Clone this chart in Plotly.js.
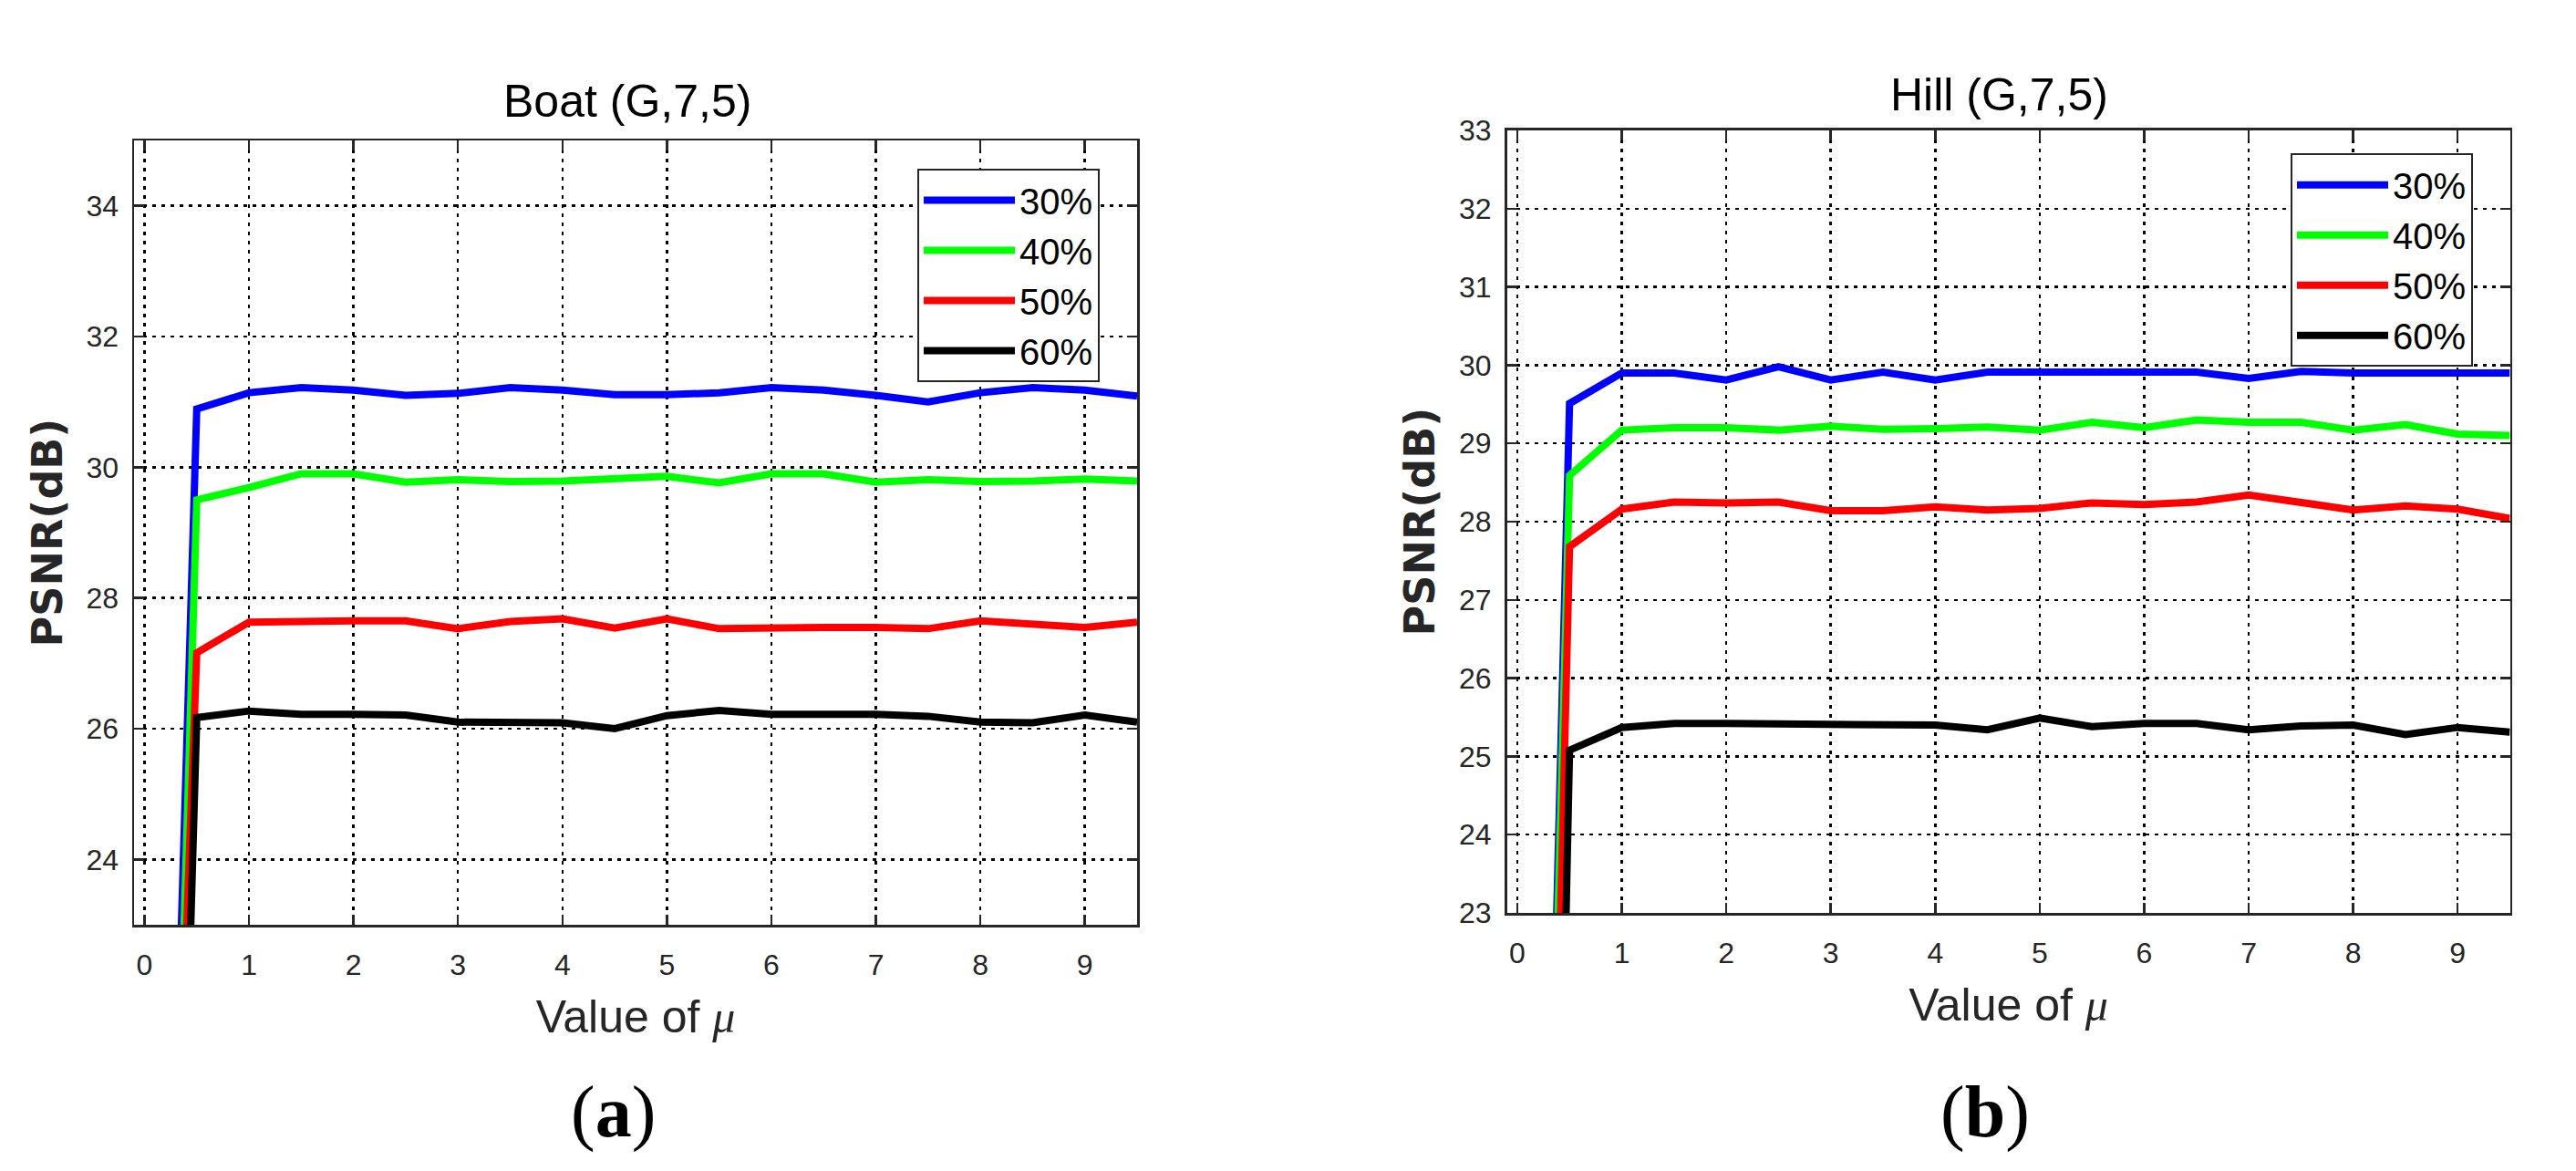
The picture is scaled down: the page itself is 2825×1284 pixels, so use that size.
<!DOCTYPE html>
<html>
<head>
<meta charset="utf-8">
<script src="https://cdn.plot.ly/plotly-3.0.1.min.js"></script>
<style>
  html, body { margin: 0; padding: 0; background: #fff; }
  #chart { width: 2825px; height: 1284px; }
</style>
</head>
<body>
<div id="chart"></div>
<script>
"use strict"
// mu values (x axis), same for both panels
let mu = [0, 0.5, 1, 1.5, 2, 2.5, 3, 3.5, 4, 4.5, 5, 5.5, 6, 6.5, 7, 7.5, 8, 8.5, 9, 9.5];
let rates = ["30%", "40%", "50%", "60%"];
let colors = ["#0000ff", "#00ff00", "#ff0000", "#000000"];

// (a) Boat
let boat_30 = [4.0, 30.89, 31.14, 31.22, 31.18, 31.10, 31.13, 31.22, 31.18, 31.11, 31.11, 31.14, 31.22, 31.18, 31.10, 31.00, 31.14, 31.22, 31.18, 31.09];
let boat_40 = [2.6, 29.50, 29.69, 29.90, 29.90, 29.77, 29.81, 29.78, 29.79, 29.82, 29.86, 29.76, 29.90, 29.90, 29.77, 29.81, 29.78, 29.79, 29.82, 29.79];
let boat_50 = [5.3, 27.16, 27.63, 27.65, 27.65, 27.65, 27.53, 27.64, 27.68, 27.54, 27.68, 27.53, 27.55, 27.55, 27.55, 27.53, 27.65, 27.59, 27.55, 27.63];
let boat_60 = [-1.6, 26.17, 26.27, 26.22, 26.22, 26.21, 26.10, 26.10, 26.09, 26.00, 26.20, 26.28, 26.22, 26.22, 26.22, 26.19, 26.10, 26.09, 26.21, 26.10];

// (b) Hill
let hill_30 = [3.0, 29.51, 29.90, 29.90, 29.81, 29.98, 29.81, 29.91, 29.81, 29.91, 29.91, 29.91, 29.93, 29.91, 29.83, 29.92, 29.90, 29.90, 29.90, 29.90];
let hill_40 = [3.2, 28.59, 29.17, 29.20, 29.20, 29.17, 29.22, 29.18, 29.19, 29.21, 29.17, 29.27, 29.20, 29.30, 29.27, 29.27, 29.17, 29.24, 29.12, 29.10];
let hill_50 = [0.2, 27.68, 28.16, 28.25, 28.24, 28.25, 28.14, 28.14, 28.19, 28.15, 28.17, 28.24, 28.22, 28.25, 28.34, 28.25, 28.15, 28.20, 28.16, 28.04];
let hill_60 = [-6.4, 25.08, 25.37, 25.42, 25.42, 25.41, 25.40, 25.40, 25.40, 25.34, 25.49, 25.38, 25.42, 25.42, 25.34, 25.39, 25.40, 25.28, 25.37, 25.31];

let boat_series = [boat_30, boat_40, boat_50, boat_60];
let hill_series = [hill_30, hill_40, hill_50, hill_60];

const FONT = "Liberation Sans, Arial, Helvetica, sans-serif";
const AXC = "#262626";

let data = [];
for (let i = 0; i < rates.length; i++) {
    data.push({
        x: mu, y: boat_series[i], name: rates[i], type: "scatter", mode: "lines",
        line: { color: colors[i], width: 8 },
        xaxis: "x", yaxis: "y", legend: "legend"
    });
}
for (let i = 0; i < rates.length; i++) {
    data.push({
        x: mu, y: hill_series[i], name: rates[i], type: "scatter", mode: "lines",
        line: { color: colors[i], width: 8 },
        xaxis: "x2", yaxis: "y2", legend: "legend2"
    });
}

function xAxis(domain, anchor) {
    return {
        domain: domain, anchor: anchor, range: [-0.1, 9.5],
        tickmode: "linear", tick0: 0, dtick: 1,
        ticks: "inside", ticklen: 11, tickwidth: 2.5, tickcolor: AXC,
        showline: true, linecolor: AXC, linewidth: 2.5, mirror: "ticks",
        showgrid: true, gridcolor: "#000", gridwidth: 2.5, griddash: "4px,6px",
        zeroline: false, ticklabelstandoff: 14,
        tickfont: { family: FONT, size: 32, color: AXC },
        title: {
            text: 'Value of <span style="font-family:Liberation Serif"><i>μ</i></span>',
            font: { family: FONT, size: 50, color: AXC }, standoff: 22
        }
    };
}
function yAxis(domain, anchor, range, dtick) {
    return {
        domain: domain, anchor: anchor, range: range,
        tickmode: "linear", tick0: 0, dtick: dtick,
        ticks: "inside", ticklen: 11, tickwidth: 2.5, tickcolor: AXC,
        showline: true, linecolor: AXC, linewidth: 2.5, mirror: "ticks",
        showgrid: true, gridcolor: "#000", gridwidth: 2.5, griddash: "4px,6px",
        zeroline: false, ticklabelstandoff: 8,
        tickfont: { family: FONT, size: 32, color: AXC },
        title: {
            text: "<b>PSNR(dB)</b>",
            font: { family: "DejaVu Sans, sans-serif", size: 46, color: AXC }, standoff: 12
        }
    };
}
function legendBox(x, y) {
    return {
        x: x, y: y, xanchor: "right", yanchor: "top",
        bgcolor: "#fff", bordercolor: AXC, borderwidth: 2,
        itemwidth: 100, font: { family: FONT, size: 40, color: "#000" },
        tracegroupgap: 0
    };
}

let layout = {
    width: 2825, height: 1284,
    margin: { l: 0, r: 0, t: 0, b: 0 },
    paper_bgcolor: "#fff", plot_bgcolor: "#fff",
    showlegend: true,
    xaxis: xAxis([0.05204, 0.44142], "y"),
    yaxis: yAxis([0.21028, 0.88006], "x", [23, 35], 2),
    xaxis2: xAxis([0.58496, 0.97434], "y2"),
    yaxis2: yAxis([0.22040, 0.88863], "x2", [23, 33], 1),
    legend: legendBox(0.42690, 0.85600),
    legend2: legendBox(0.96000, 0.86900),
    annotations: [
        { text: "Boat (G,7,5)", x: 0.24354, y: 0.91355, xref: "paper", yref: "paper",
          xanchor: "center", yanchor: "middle", showarrow: false,
          font: { family: FONT, size: 50, color: "#000" } },
        { text: "Hill (G,7,5)", x: 0.77628, y: 0.91939, xref: "paper", yref: "paper",
          xanchor: "center", yanchor: "middle", showarrow: false,
          font: { family: FONT, size: 50, color: "#000" } },
        { text: "(<b>a</b>)", x: 0.23805, y: 0.05062, xref: "paper", yref: "paper",
          xanchor: "center", yanchor: "middle", showarrow: false,
          font: { family: "Liberation Serif, Times New Roman, serif", size: 80, color: "#000" } },
        { text: "(<b>b</b>)", x: 0.77062, y: 0.05062, xref: "paper", yref: "paper",
          xanchor: "center", yanchor: "middle", showarrow: false,
          font: { family: "Liberation Serif, Times New Roman, serif", size: 80, color: "#000" } }
    ]
};

Plotly.newPlot("chart", data, layout, { displayModeBar: false, staticPlot: true });
</script>
</body>
</html>
